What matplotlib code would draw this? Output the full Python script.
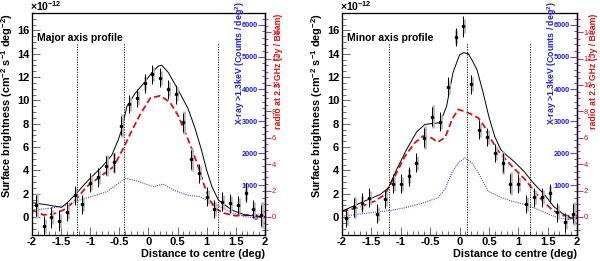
import matplotlib
matplotlib.use('Agg')
import matplotlib.pyplot as plt
from matplotlib.ticker import MultipleLocator

plt.rcParams['font.family'] = ['Liberation Sans', 'DejaVu Sans']
plt.rcParams['mathtext.fontset'] = 'custom'
plt.rcParams['mathtext.rm'] = 'Liberation Sans'
plt.rcParams['mathtext.bf'] = 'Liberation Sans:bold'
plt.rcParams['mathtext.default'] = 'bf'

# bin centres (deg)
bin_x = [-1.933, -1.8, -1.667, -1.533, -1.4, -1.267, -1.133, -1.0, -0.867, -0.733,
         -0.6, -0.467, -0.333, -0.2, -0.067, 0.067, 0.2, 0.333, 0.467, 0.6,
         0.733, 0.867, 1.0, 1.133, 1.267, 1.4, 1.533, 1.667, 1.8, 1.933]

# major axis profile (1e-12 cm-2 s-1 deg-2)
major_flux = [1.0, -0.77, 0.0, -0.3, 0.45, 1.86, 1.09, 2.95, 3.4, 4.4,
              4.7, 7.84, 9.7, 10.2, 11.47, 12.25, 11.96, 10.96, 10.53, 8.13,
              4.95, 3.75, 1.74, 0.69, 1.31, 1.17, 1.03, 2.09, 0.69, 0.17]
major_err = [0.9, 0.9, 0.9, 0.9, 0.8, 0.8, 0.8, 0.8, 0.8, 0.8,
             0.8, 0.8, 0.8, 0.8, 0.8, 0.8, 0.8, 0.8, 0.8, 0.8,
             0.8, 0.8, 0.8, 0.8, 0.8, 0.8, 0.8, 0.8, 0.8, 0.9]
major_sys = [1.1, 0.6, 0.6, 0.6, 0.6, 0.6, 0.6, 0.6, 0.6, 0.9,
             0.9, 1.0, 0.6, 0.6, 0.6, 0.6, 0.6, 0.6, 0.6, 1.0,
             1.0, 0.6, 0.6, 0.6, 0.6, 0.6, 0.6, 0.6, 0.6, 1.1]

# minor axis profile (1e-12 cm-2 s-1 deg-2)
minor_flux = [-0.07, 0.84, 1.22, 1.65, 0.3, 1.56, 2.85, 2.85, 3.5, 4.65,
              6.8, 8.6, 8.17, 11.18, 15.43, 16.38, 11.37, 7.5, 6.85, 5.5,
              4.65, 2.85, 2.85, 1.13, 1.7, 1.7, 2.02, 0.41, -0.45, 0.3]
minor_err = [0.8, 0.8, 0.8, 0.8, 0.8, 0.8, 0.8, 0.8, 0.8, 0.8,
             0.8, 0.8, 0.8, 0.8, 0.8, 0.9, 0.8, 0.8, 0.8, 0.8,
             0.8, 0.8, 0.8, 0.8, 0.8, 0.8, 0.8, 0.8, 0.8, 0.8]
minor_sys = [0.6, 0.9, 0.6, 0.6, 0.6, 0.6, 0.6, 0.6, 0.6, 0.6,
             1.0, 1.0, 0.6, 0.6, 0.6, 0.6, 0.6, 0.6, 0.6, 0.6,
             1.0, 1.0, 0.6, 0.6, 0.6, 0.6, 0.6, 0.6, 0.6, 1.0]

# model curve (same units as points)
major_model_x = [-2.0, -1.75, -1.49, -1.38, -1.26, -1.03, -0.80, -0.63, -0.52, -0.46,
                 -0.37, -0.23, -0.06, 0.06, 0.17, 0.23, 0.34, 0.51, 0.68, 0.80,
                 0.91, 1.0, 1.09, 1.2, 1.43, 1.66, 2.0]
major_model_y = [1.23, 1.05, 0.83, 1.3, 1.9, 3.18, 4.3, 5.3, 6.6, 7.5,
                 9.5, 10.6, 11.6, 12.4, 12.95, 13.0, 12.4, 10.9, 9.3, 7.6,
                 5.75, 4.0, 2.6, 1.46, 0.6, 0.17, 0.0]
minor_model_x = [-2.0, -1.6, -1.35, -1.21, -1.07, -0.90, -0.73, -0.59, -0.45, -0.33,
                 -0.22, -0.11, 0.0, 0.07, 0.15, 0.22, 0.30, 0.40, 0.50, 0.60,
                 0.70, 0.80, 0.92, 1.1, 1.26, 1.45, 1.6, 1.75, 1.9, 2.0]
minor_model_y = [0.5, 1.4, 1.93, 2.5, 4.08, 5.8, 7.3, 7.94, 8.03, 8.08,
                 9.5, 12.4, 13.9, 14.1, 14.0, 13.4, 12.6, 10.7, 8.6, 6.9,
                 5.8, 5.3, 4.8, 3.9, 2.9, 1.9, 0.93, 0.3, -0.1, -0.1]

# radio 2.3 GHz (Jy / Beam)
major_radio_x = [-2.0, -1.8, -1.58, -1.40, -1.23, -1.06, -0.83, -0.6, -0.43, -0.28,
                 -0.13, 0.03, 0.2, 0.37, 0.51, 0.62, 0.74, 0.85, 0.95, 1.05,
                 1.14, 1.3, 1.5, 1.8, 2.0]
major_radio_y = [0.53, 0.15, 0.28, 0.66, 1.41, 2.29, 3.05, 3.80, 5.21, 6.59,
                 7.86, 9.00, 9.18, 8.69, 7.68, 6.53, 5.21, 3.88, 2.47, 1.32,
                 0.66, 0.28, 0.09, 0.18, 0.0]
minor_radio_x = [-2.0, -1.72, -1.44, -1.27, -1.10, -0.93, -0.76, -0.62, -0.48, -0.37,
                 -0.25, -0.19, -0.13, -0.02, 0.15, 0.32, 0.42, 0.49, 0.66, 0.89,
                 1.12, 1.34, 1.57, 1.74, 2.0]
minor_radio_y = [0.44, 0.70, 1.20, 1.70, 3.09, 4.59, 5.62, 6.13, 6.00, 5.67,
                 6.00, 6.62, 7.39, 8.15, 7.89, 7.50, 6.88, 6.22, 4.99, 3.85,
                 2.82, 1.57, 0.56, 0.11, 0.09]

# X-ray >1.3 keV (counts / deg2)
major_xray_x = [-2.0, -1.69, -1.40, -1.18, -0.89, -0.72, -0.55, -0.40, -0.26, -0.09,
                0.08, 0.25, 0.43, 0.66, 0.88, 1.06, 1.23, 1.46, 1.69, 1.98]
major_xray_y = [218, 273, 375, 531, 688, 790, 1001, 1208, 1158, 1056,
                946, 1030, 844, 688, 633, 477, 320, 116, 0, -36]
minor_xray_x = [-2.0, -1.44, -1.15, -0.93, -0.65, -0.37, -0.25, -0.13, -0.02, 0.09,
                0.21, 0.32, 0.49, 0.72, 0.89, 1.12, 1.34, 1.57, 1.74, 2.0]
minor_xray_y = [25, 149, 211, 288, 422, 601, 859, 1380, 1693, 1849,
                1693, 1380, 801, 601, 495, 389, 233, 47, -55, -73]

major_lines = [-1.22, -0.42, 1.2]
minor_lines = [-1.2, 0.13, 1.2]

axis_col = '#7a4a9a'


def draw_panel(fig, rect, title, flux, err, sys_err, mod_x, mod_y, rad_x, rad_y,
               xr_x, xr_y, lines, radio_lab_x):
    ax = fig.add_axes(rect)
    ax_x = ax.twinx()
    ax_r = ax.twinx()
    ax.set_zorder(3)
    ax.patch.set_visible(False)

    ax.set_xlim(-2, 2)
    ax.set_ylim(-1.5, 17.5)
    ax_x.set_ylim(-547, 6375)
    ax_r.set_ylim(-1.33, 15.45)

    ax_x.plot(xr_x, xr_y, color='#4a4af0', lw=0.8, ls=(0, (1, 1)))
    ax_r.plot(rad_x, rad_y, color='#e01010', lw=1.3, ls=(0, (3.5, 1.8)))
    ax.plot(mod_x, mod_y, color='black', lw=0.7)

    ax.errorbar([x + 0.015 for x in bin_x], flux, yerr=sys_err, fmt='none',
                ecolor='#b8b8b8', elinewidth=2.0, capsize=0)
    ax.errorbar(bin_x, flux, yerr=err, fmt='o', color='black', ms=2.6, mew=0,
                elinewidth=0.7, capsize=0)

    for xv in lines:
        ax.plot([xv, xv], [-1.5, 14.9], color='black', lw=0.6, ls=(0, (1.5, 1.5)))

    ax.text(-1.92, 15.1, title, fontsize=7.5, fontweight='bold')
    ax.text(-0.01, 1.0, r'$\times$10$^{-12}$', transform=ax.transAxes,
            fontsize=7.5, ha='left', va='bottom', fontweight='bold')

    ax.set_xlabel('Distance to centre (deg)', loc='right', fontsize=7.8,
                  fontweight='bold', labelpad=1)
    ax.set_ylabel('Surface brightness (cm$^{-2}$ s$^{-1}$ deg$^{-2}$)', loc='top',
                  fontsize=7.8, fontweight='bold', labelpad=1)

    ax.xaxis.set_minor_locator(MultipleLocator(0.1))
    ax.yaxis.set_minor_locator(MultipleLocator(0.5))
    ax.tick_params(which='both', direction='in', top=False, right=False,
                   color='#555555', width=0.6, labelsize=8, pad=2)
    ax.tick_params(which='major', length=6)
    ax.tick_params(which='minor', length=3)
    ax.set_xticks([-2, -1.5, -1, -0.5, 0, 0.5, 1, 1.5, 2])
    ax.set_xticklabels(['-2', '-1.5', '-1', '-0.5', '0', '0.5', '1', '1.5', '2'],
                       fontweight='bold')
    ax.set_yticks([0, 2, 4, 6, 8, 10, 12, 14, 16])
    ax.set_yticklabels(['0', '2', '4', '6', '8', '10', '12', '14', '16'],
                       fontweight='bold')
    for sp in ax.spines.values():
        sp.set_linewidth(0.8)

    # X-ray axis: ticks and labels inside the frame
    ax_x.yaxis.set_minor_locator(MultipleLocator(200))
    ax_x.set_yticks([0, 1000, 2000, 3000, 4000, 5000, 6000])
    ax_x.set_yticklabels(['0', '1000', '2000', '3000', '4000', '5000', '6000'],
                         fontweight='bold')
    ax_x.tick_params(axis='y', which='both', direction='in', color='#5050d0',
                     labelcolor='#2020e0', labelsize=5.3, pad=-5, width=0.8)
    ax_x.tick_params(axis='y', which='major', length=5)
    ax_x.tick_params(axis='y', which='minor', length=2.5)
    for lab in ax_x.get_yticklabels():
        lab.set_horizontalalignment('right')
    ax_x.spines['right'].set_color(axis_col)
    ax_x.spines['right'].set_linewidth(1.0)

    # radio axis: ticks and labels outside
    ax_r.yaxis.set_minor_locator(MultipleLocator(0.5))
    ax_r.set_yticks([0, 2, 4, 6, 8, 10, 12, 14])
    ax_r.tick_params(axis='y', which='both', direction='out', color='#b04070',
                     labelcolor='#e01010', labelsize=5.5, pad=0.5, width=0.8)
    ax_r.tick_params(axis='y', which='major', length=4.5)
    ax_r.tick_params(axis='y', which='minor', length=2.5)
    ax_r.spines['right'].set_color(axis_col)
    ax_r.spines['right'].set_linewidth(1.0)

    ax.text(0.893, 1.055, r'X-ray >1.3keV (Counts / deg$^2$)', transform=ax.transAxes,
            rotation=90, ha='center', va='top', fontsize=6.3, color='#2020e0',
            fontweight='bold')
    ax.text(radio_lab_x, 0.995, 'radio at 2.3 GHz (Jy / Beam)', transform=ax.transAxes,
            rotation=90, ha='center', va='top', fontsize=6.3, color='#e01010',
            fontweight='bold')
    return ax


fig = plt.figure(figsize=(6, 2.61), dpi=100)
draw_panel(fig, [0.0533, 0.1015, 0.3883, 0.8487], 'Major axis profile',
           major_flux, major_err, major_sys, major_model_x, major_model_y,
           major_radio_x, major_radio_y, major_xray_x, major_xray_y, major_lines,
           1.058)
draw_panel(fig, [0.57, 0.1015, 0.3917, 0.8487], 'Minor axis profile',
           minor_flux, minor_err, minor_sys, minor_model_x, minor_model_y,
           minor_radio_x, minor_radio_y, minor_xray_x, minor_xray_y, minor_lines,
           1.07)

fig.savefig('out.png', dpi=100)
